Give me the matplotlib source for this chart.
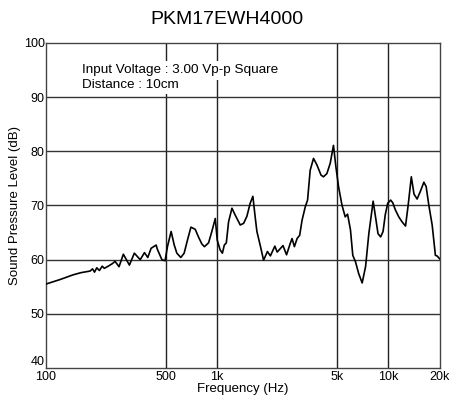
import matplotlib
matplotlib.use("Agg")
import matplotlib.pyplot as plt
from matplotlib.ticker import FixedLocator, NullLocator

title = "PKM17EWH4000"
freq_hz = [100, 120, 144, 160, 181, 187, 192, 198, 205, 213, 219, 231, 245, 253, 267,
           283, 307, 328, 355, 376, 393, 411, 440, 446, 475, 496, 512, 538, 561, 581,
           613, 641, 670, 702, 744, 777, 813, 842, 890, 930, 974, 1000, 1040, 1072,
           1100, 1130, 1165, 1219, 1270, 1363, 1426, 1490, 1557, 1615, 1664, 1705,
           1790, 1865, 1964, 2044, 2170, 2240, 2421, 2540, 2670, 2735, 2823, 2927,
           3030, 3130, 3270, 3370, 3490, 3650, 3820, 4040, 4176, 4370, 4570, 4774,
           4930, 5110, 5350, 5590, 5770, 6000, 6190, 6420, 6690, 7020, 7350, 7680,
           8140, 8430, 8690, 9000, 9300, 9580, 9900, 10300, 10600, 10970, 11490,
           12000, 12580, 13040, 13600, 14100, 14700, 15400, 16100, 16600, 17200,
           18000, 18800, 19200, 20000]
spl_db = [55.5, 56.3, 57.2, 57.6, 57.9, 58.3, 57.7, 58.5, 58.0, 58.8, 58.4, 58.8, 59.3, 59.7, 58.7,
          61.0, 59.0, 61.2, 60.0, 61.3, 60.4, 62.1, 62.7, 62.0, 60.0, 59.8, 62.4, 65.2, 62.7, 61.2,
          60.4, 61.2, 63.6, 66.0, 65.6, 64.2, 62.9, 62.4, 63.1, 65.2, 67.6, 63.6, 61.8, 61.2,
          62.7, 63.1, 67.0, 69.5, 68.3, 66.4, 66.7, 68.0, 70.4, 71.7, 68.0, 65.2,
          62.4, 59.9, 61.5, 60.7, 62.5, 61.4, 62.6, 60.9, 63.0, 63.9, 62.4, 63.9,
          64.5, 67.3, 69.8, 71.0, 76.5, 78.7, 77.5, 75.6, 75.3, 75.9, 77.8, 81.1,
          77.2, 73.5, 70.1, 67.9, 68.4, 65.5, 60.8, 59.6, 57.5, 55.7, 58.7, 64.8,
          70.8, 67.6, 64.8, 64.2, 65.2, 68.3, 70.4, 71.0, 70.5, 69.2, 67.9,
          67.0, 66.2, 70.1, 75.3, 72.1, 71.2, 72.7, 74.3, 73.5, 70.1,
          66.4, 60.8, 60.7, 60.1]

x_ticks = [100, 500, 1000, 5000, 10000, 20000]
x_tick_labels = ["100", "500", "1k", "5k", "10k", "20k"]
y_ticks = [40, 50, 60, 70, 80, 90, 100]
y_tick_labels = ["40", "50", "60", "70", "80", "90", "100"]
x_grid = [500, 1000, 5000, 10000]
notes = ["Input Voltage : 3.00 Vp-p Square", "Distance : 10cm"]

plt.rcParams['font.family'] = ['Liberation Sans', 'DejaVu Sans']

fig = plt.figure(figsize=(4.54, 4.15), dpi=100)
ax = fig.add_axes([46/454, 47/415, 394/454, 325/415])

ax.set_xscale('log')
ax.set_xlim(100, 20000)
ax.set_ylim(40, 100)

for g in x_grid:
    ax.axvline(g, color='#222222', lw=1.0, zorder=1)
for g in y_ticks[1:-1]:
    ax.axhline(g, color='#333333', lw=1.0, zorder=1)

ax.plot(freq_hz, spl_db, color='black', lw=1.2, zorder=3)

ax.xaxis.set_major_locator(FixedLocator(x_ticks))
ax.xaxis.set_minor_locator(NullLocator())
ax.set_xticklabels(x_tick_labels)
ax.set_yticks(y_ticks)
ax.set_yticklabels(y_tick_labels)
ax.tick_params(axis='both', length=0, labelsize=9, pad=1, colors='black')
ax.tick_params(axis='x', pad=2)
ax.get_yticklabels()[0].set_verticalalignment('bottom')

for s in ax.spines.values():
    s.set_color('#444444')
    s.set_linewidth(1.0)

ax.set_xlabel("Frequency (Hz)", fontsize=9.5, labelpad=0)
ax.set_ylabel("Sound Pressure Level (dB)", fontsize=9.5, labelpad=2)
fig.text(0.5, 1 - 19/415, title, ha='center', va='center', fontsize=14)

box = dict(facecolor='white', edgecolor='none', boxstyle='square,pad=0.25')
ax.text(82/454, 1 - 73.5/415, notes[0], transform=fig.transFigure, fontsize=9.7,
        va='baseline', ha='left', bbox=box, zorder=4)
ax.text(82/454, 1 - 88/415, notes[1], transform=fig.transFigure, fontsize=9.7,
        va='baseline', ha='left', bbox=box, zorder=4)

fig.savefig("out.png", dpi=100)
